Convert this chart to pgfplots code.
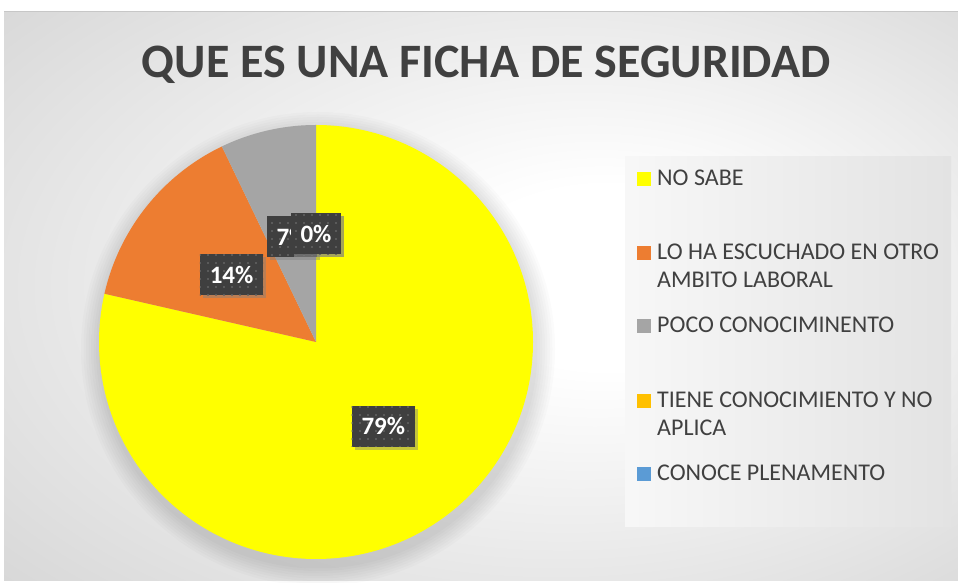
\documentclass[border=0pt]{standalone}
\usepackage{pgfplots}
\pgfplotsset{compat=1.18}
\usepackage{pgfplotstable}
\usepackage{fontspec}
\setmainfont{Carlito}
\usetikzlibrary{shadows,patterns.meta}
\definecolor{pyel}{HTML}{FFFF00}
\definecolor{porg}{HTML}{ED7D31}
\definecolor{pgry}{HTML}{A5A5A5}
\definecolor{pgld}{HTML}{FFC000}
\definecolor{pblu}{HTML}{5B9BD5}
\definecolor{txt}{HTML}{404040}
\definecolor{lblbg}{HTML}{3F3F3F}
\pgfdeclareradialshading{bgshade}{\pgfpoint{8bp}{2bp}}{color(0bp)=(white); color(8bp)=(white); color(50bp)=(black!22)}

% percentages of each answer
\pgfplotstableread{
value
78.57
14.29
7.14
0
0
}\piedata

\begin{document}%
\begin{tikzpicture}[x=1pt,y=1pt,
  lbl/.style={fill=lblbg, text=white, font=\fontsize{25}{25}\selectfont\bfseries,
    inner xsep=10pt, inner ysep=0pt, minimum height=41pt,
    drop shadow={shadow xshift=3pt, shadow yshift=-3pt, opacity=0.45},
    postaction={pattern={Dots[distance=8pt,radius=1.2pt]}, pattern color=white!20!lblbg}},
  legtxt/.style={anchor=base west, inner sep=0pt, text=txt, font=\fontsize{24}{28}\selectfont},
]
\pgfplotstablegetelem{0}{value}\of\piedata \let\vA\pgfplotsretval
\pgfplotstablegetelem{1}{value}\of\piedata \let\vB\pgfplotsretval
\pgfplotstablegetelem{2}{value}\of\piedata \let\vC\pgfplotsretval
\pgfplotstablegetelem{3}{value}\of\piedata \let\vD\pgfplotsretval
\pgfplotstablegetelem{4}{value}\of\piedata \let\vE\pgfplotsretval
\pgfmathsetmacro\aA{90}
\pgfmathsetmacro\aB{\aA-3.6*\vA}
\pgfmathsetmacro\aC{\aB-3.6*\vB}
\pgfmathsetmacro\aD{\aC-3.6*\vC}
\pgfmathsetmacro\aE{\aD-3.6*\vD}
\pgfmathsetmacro\aF{\aE-3.6*\vE}
\pgfmathsetmacro\mA{(\aA+\aB)/2}
\pgfmathsetmacro\mB{(\aB+\aC)/2}
\pgfmathsetmacro\mC{(\aC+\aD)/2}
\pgfmathsetmacro\mD{(\aD+\aE)/2}
\pgfmathsetmacro\mE{(\aE+\aF)/2}
\fill[white] (0,0) rectangle (958,583);
\shade[shading=bgshade] (4,2) rectangle (958,571);
\draw[black!22, line width=1pt] (4,571) -- (958,571);
% legend background
\shade[left color=white!97!black, right color=white!89!black] (625,56) rectangle (951,426);
% soft shadow of the pie
\foreach \k in {1,...,8} \fill[black, opacity=0.014] (318,234) circle ({217+2.5*\k});
% title
\node[anchor=base, inner sep=0pt, text=txt, font=\fontsize{48}{54}\selectfont\bfseries] at (486,505) {QUE ES UNA FICHA DE SEGURIDAD};

\begin{axis}[at={(316pt,241pt)}, anchor=origin, x=1pt, y=1pt,
  xmin=-230, xmax=230, ymin=-230, ymax=230, hide axis, clip=false, scale only axis,
  /pgf/number format/assume math mode=true]
\fill[pyel] (axis cs:0,0) -- (axis cs:{217*cos(\aA)},{217*sin(\aA)}) arc[start angle=\aA, end angle=\aB, radius=217pt] -- cycle;
\fill[porg] (axis cs:0,0) -- (axis cs:{217*cos(\aB)},{217*sin(\aB)}) arc[start angle=\aB, end angle=\aC, radius=217pt] -- cycle;
\fill[pgry] (axis cs:0,0) -- (axis cs:{217*cos(\aC)},{217*sin(\aC)}) arc[start angle=\aC, end angle=\aD, radius=217pt] -- cycle;
\node[lbl] at (axis cs:{108*cos(\mA)},{108*sin(\mA)}) {\pgfmathprintnumber[fixed,precision=0,assume math mode=true]{\vA}\%};
\node[lbl] at (axis cs:{108*cos(\mB)},{108*sin(\mB)}) {\pgfmathprintnumber[fixed,precision=0,assume math mode=true]{\vB}\%};
\node[lbl] at (axis cs:{108*cos(\mC)},{108*sin(\mC)}) {\pgfmathprintnumber[fixed,precision=0,assume math mode=true]{\vC}\%};
\node[lbl] at (axis cs:{108*cos(\mD)},{108*sin(\mD)}) {\pgfmathprintnumber[fixed,precision=0,assume math mode=true]{\vD}\%};
\node[lbl] at (axis cs:{108*cos(\mE)},{108*sin(\mE)}) {\pgfmathprintnumber[fixed,precision=0,assume math mode=true]{\vE}\%};
\end{axis}

% legend
\fill[pyel] (637,397) rectangle (651,411);
\node[legtxt] at (657,397) {NO SABE};
\fill[porg] (637,323) rectangle (651,337);
\node[legtxt] at (657,323) {LO HA ESCUCHADO EN OTRO};
\node[legtxt] at (657,295) {AMBITO LABORAL};
\fill[pgry] (637,250) rectangle (651,264);
\node[legtxt] at (657,250) {POCO CONOCIMINENTO};
\fill[pgld] (637,175) rectangle (651,189);
\node[legtxt] at (657,175) {TIENE CONOCIMIENTO Y NO};
\node[legtxt] at (657,147) {APLICA};
\fill[pblu] (637,102) rectangle (651,116);
\node[legtxt] at (657,102) {CONOCE PLENAMENTO};
\pgfresetboundingbox
\path[use as bounding box] (0,0) rectangle (958,583);
\end{tikzpicture}%
\end{document}
